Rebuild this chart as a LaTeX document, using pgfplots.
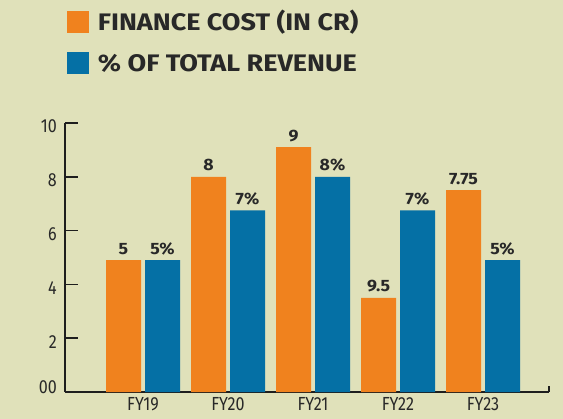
\documentclass[border=0pt]{standalone}
\usepackage{fontspec}
\setmainfont{Fira Sans}
\newfontfamily\condfont[FakeStretch=0.85]{Fira Sans}
\newfontfamily\legfont[FakeStretch=1.13]{Fira Sans Bold}
\newfontfamily\labfont[FakeStretch=1.08]{Fira Sans Bold}
\usepackage{pgfplots}
\pgfplotsset{compat=1.18}
\definecolor{bg}{RGB}{224,225,186}
\definecolor{orng}{RGB}{240,130,30}
\definecolor{blu}{RGB}{5,112,165}
\definecolor{axc}{RGB}{30,30,30}
\definecolor{txt}{RGB}{40,40,40}
\pgfplotsset{sqleg/.style={legend image code/.code={\fill[##1,draw=none] (0bp,-11bp) rectangle (22bp,11bp); \path (31bp,0bp);}}}
\begin{document}
\begin{tikzpicture}
\fill[bg] (-65bp,-27bp) rectangle (498bp,392bp);
\begin{axis}[
  at={(0,0)}, anchor=south west,
  scale only axis, width=484bp, height=269bp,
  xmin=-0.9176, xmax=4.776, ymin=0, ymax=10,
  axis x line=bottom, axis y line=left,
  axis line style={-, line width=1.6bp, color=axc},
  ytick={0,2,4,6,8,10},
  yticklabels={\raisebox{8.5bp}[\height][\depth]{00},2,4,6,8,10},
  xtick={0,1,2,3,4},
  xticklabels={FY19,FY20,FY21,FY22,FY23},
  major x tick style={draw=none},
  major y tick style={line width=1.6bp, color=axc},
  tick align=inside, major tick length=13bp,
  ticklabel style={font=\condfont\fontsize{19}{19}\selectfont, text=txt, inner sep=0pt, text height=13bp, text depth=0pt},
  yticklabel style={anchor=east, xshift=-8bp, yshift=-3.5bp},
  xticklabel style={anchor=north, yshift=8bp},
  ybar, bar width=35bp,
  nodes near coords, point meta=explicit symbolic,
  every node near coord/.append style={font=\labfont\fontsize{16.5}{16.5}\selectfont, text=txt, inner sep=0pt, anchor=base, yshift=6bp},
  clip=false,
  legend style={draw=none, fill=none, at={(axis description cs:0,1)}, anchor=north west, xshift=2bp, yshift=112bp,
    font=\legfont\fontsize{24}{24}\selectfont, text=txt, row sep=19bp, inner sep=0pt, outer sep=0pt,
    nodes={inner sep=0pt, text height=17bp, text depth=0pt}, cells={anchor=west}},
  legend columns=1,
]
\addplot[fill=orng, draw=none, bar shift=-19.5bp, sqleg] coordinates {(0,4.9)[5] (1,8.0)[8] (2,9.1)[9] (3,3.5)[9.5] (4,7.5)[7.75]};
\addlegendentry{FINANCE COST (IN CR)}
\addplot[fill=blu, draw=none, bar shift=19.5bp, sqleg] coordinates {(0,4.9)[5\%] (1,6.75)[7\%] (2,8.0)[8\%] (3,6.75)[7\%] (4,4.9)[5\%]};
\addlegendentry{\% OF TOTAL REVENUE}
\draw[line width=1.6bp, axc] (rel axis cs:1,0) -- ++(0bp,6bp);
\end{axis}
\end{tikzpicture}
\end{document}
